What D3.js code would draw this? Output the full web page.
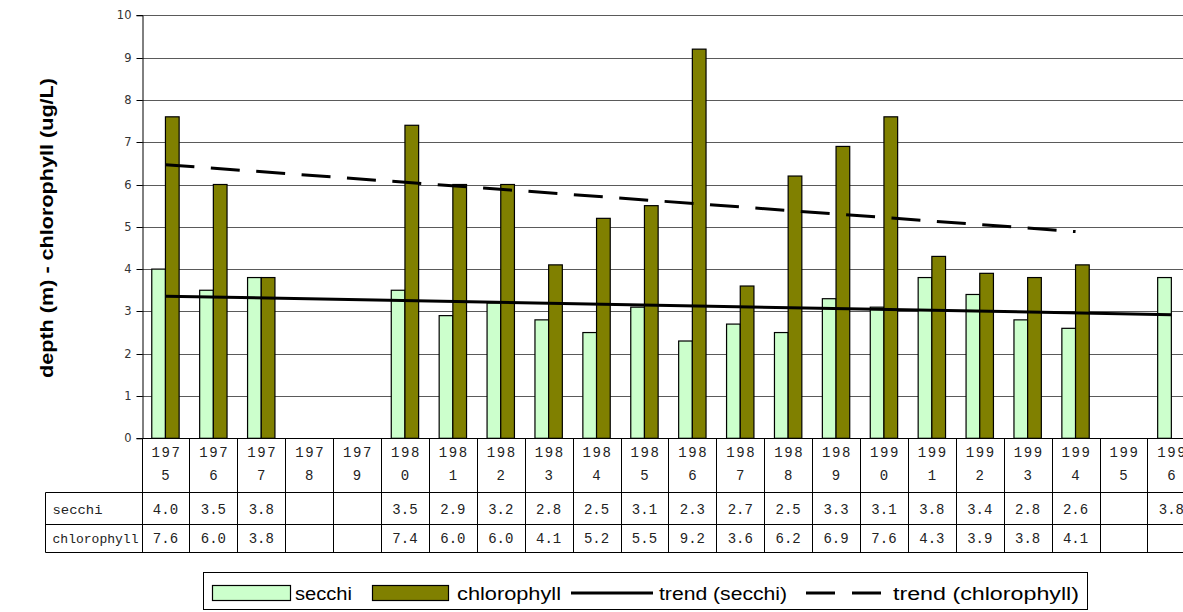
<!DOCTYPE html>
<html>
<head>
<meta charset="utf-8">
<script src="https://cdn.jsdelivr.net/npm/d3@7"></script>
<style>
  html, body { margin: 0; padding: 0; background: #fff; }
  svg { display: block; }
</style>
</head>
<body>
<svg id="chart" width="1183" height="612"></svg>
<script>
// Lake monitoring: Secchi depth (m) and chlorophyll (ug/L) by year
const years = ["1975","1976","1977","1978","1979","1980","1981","1982","1983","1984","1985",
               "1986","1987","1988","1989","1990","1991","1992","1993","1994","1995","1996"];
const secchi = [4.0, 3.5, 3.8, null, null, 3.5, 2.9, 3.2, 2.8, 2.5, 3.1,
                2.3, 2.7, 2.5, 3.3, 3.1, 3.8, 3.4, 2.8, 2.6, null, 3.8];
const chlorophyll = [7.6, 6.0, 3.8, null, null, 7.4, 6.0, 6.0, 4.1, 5.2, 5.5,
                     9.2, 3.6, 6.2, 6.9, 7.6, 4.3, 3.9, 3.8, 4.1, null, null];
const yTicks = [0, 1, 2, 3, 4, 5, 6, 7, 8, 9, 10];
const seriesNames = ["secchi", "chlorophyll"];

const COLORS = { secchi: "#CCFFCC", chlorophyll: "#808000" };

const svg = d3.select("#chart");
const plot = { left: 141.5, top: 15.3, bottom: 438.3, step: 47.9 };

const x = d3.scaleBand()
  .domain(years)
  .range([plot.left, plot.left + plot.step * years.length])
  .paddingInner(0).paddingOuter(0);
const y = d3.scaleLinear().domain([0, 10]).range([plot.bottom, plot.top]);

const barW = x.bandwidth() / 3.5;   // two bars + 150% gap

// gridlines
svg.append("g")
  .selectAll("line")
  .data(yTicks.filter(d => d > 0))
  .join("line")
  .attr("x1", plot.left).attr("x2", 1183)
  .attr("y1", d => Math.round(y(d)) + 0.5).attr("y2", d => Math.round(y(d)) + 0.5)
  .attr("stroke", "#5a5a5a").attr("stroke-width", 1);

// y axis
const yAxis = d3.axisLeft(y).tickValues(yTicks).tickSize(6).tickPadding(5)
  .tickFormat(d3.format("d"));
const gy = svg.append("g")
  .attr("transform", `translate(${Math.round(plot.left) + 0.5},0)`)
  .call(yAxis);
gy.select(".domain").attr("stroke", "#000");
gy.selectAll(".tick line").attr("stroke", "#000");
gy.selectAll(".tick text")
  .attr("font-family", "DejaVu Sans, Verdana, sans-serif")
  .attr("font-size", 11.5)
  .attr("fill", "#333");
gy.selectAll(".tick").attr("transform", d => `translate(0,${Math.round(y(d)) + 0.5})`);

// bars
const bars = svg.append("g");
seriesNames.forEach((name, si) => {
  const vals = name === "secchi" ? secchi : chlorophyll;
  bars.append("g")
    .selectAll("rect")
    .data(years.map((yr, i) => ({ yr, v: vals[i] })).filter(d => d.v != null))
    .join("rect")
    .attr("x", d => x(d.yr) + x.bandwidth() / 2 - barW + si * barW)
    .attr("y", d => y(d.v))
    .attr("width", barW)
    .attr("height", d => y(0) - y(d.v))
    .attr("fill", COLORS[name])
    .attr("stroke", "#000")
    .attr("stroke-width", 1.2);
});

// least-squares trend over category index (gaps skipped)
function trend(vals) {
  const pts = vals.map((v, i) => ({ i: i + 1, v })).filter(d => d.v != null);
  const n = pts.length;
  const mx = d3.mean(pts, d => d.i), my = d3.mean(pts, d => d.v);
  const sxy = d3.sum(pts, d => (d.i - mx) * (d.v - my));
  const sxx = d3.sum(pts, d => (d.i - mx) ** 2);
  const b = sxy / sxx, a = my - b * mx;
  const first = pts[0].i, last = pts[n - 1].i;
  return [first, last].map(i => ({ yr: years[i - 1], v: a + b * i }));
}
const line = d3.line()
  .x(d => x(d.yr) + x.bandwidth() / 2)
  .y(d => y(d.v));

svg.append("path")
  .datum(trend(secchi))
  .attr("d", line)
  .attr("fill", "none").attr("stroke", "#000").attr("stroke-width", 3);
svg.append("path")
  .datum(trend(chlorophyll))
  .attr("d", line)
  .attr("fill", "none").attr("stroke", "#000").attr("stroke-width", 3)
  .attr("stroke-dasharray", "29,16.5");

// x axis line
svg.append("line")
  .attr("x1", plot.left).attr("x2", 1183)
  .attr("y1", Math.round(plot.bottom) + 0.5).attr("y2", Math.round(plot.bottom) + 0.5)
  .attr("stroke", "#000");

// data table under the axis
const table = { headBottom: 492.5, row1Bottom: 524.5, bottom: 552.5, left: 45.5 };
const tg = svg.append("g");
const mono = "Liberation Mono, Courier New, monospace";

// cell borders
const edges = years.map(yr => x(yr)).concat([x(years[years.length - 1]) + x.bandwidth()]);
tg.selectAll("line.v")
  .data(edges)
  .join("line")
  .attr("class", "v")
  .attr("x1", d => Math.round(d) + 0.5).attr("x2", d => Math.round(d) + 0.5)
  .attr("y1", plot.bottom).attr("y2", table.bottom)
  .attr("stroke", "#000");
[table.headBottom, table.row1Bottom, table.bottom].forEach(yy => {
  tg.append("line")
    .attr("x1", table.left).attr("x2", 1183)
    .attr("y1", yy).attr("y2", yy)
    .attr("stroke", "#000");
});
tg.append("line")
  .attr("x1", table.left).attr("x2", table.left)
  .attr("y1", table.headBottom).attr("y2", table.bottom)
  .attr("stroke", "#000");

// year labels wrapped on two lines
const yearText = tg.selectAll("text.year")
  .data(years)
  .join("text")
  .attr("class", "year")
  .attr("text-anchor", "middle")
  .attr("font-family", mono)
  .attr("font-size", 14)
  .attr("fill", "#222");
yearText.append("tspan")
  .attr("x", d => x(d) + x.bandwidth() / 2 + 1)
  .attr("y", 456.5)
  .attr("letter-spacing", 1.6)
  .text(d => d.slice(0, 3));
yearText.append("tspan")
  .attr("x", d => x(d) + x.bandwidth() / 2)
  .attr("y", 480)
  .text(d => d.slice(3));

// row labels and values
const fmt = d3.format(".1f");
const rows = [
  { name: "secchi", vals: secchi, base: 514 },
  { name: "chlorophyll", vals: chlorophyll, base: 543 }
];
rows.forEach(r => {
  tg.append("text")
    .attr("x", 52.5).attr("y", r.base)
    .attr("font-family", mono).attr("font-size", 13.5)
    .attr("fill", "#222")
    .attr("textLength", r.name === "secchi" ? 50 : 86)
    .attr("lengthAdjust", "spacingAndGlyphs")
    .text(r.name);
  tg.selectAll(null)
    .data(years.map((yr, i) => ({ yr, v: r.vals[i] })).filter(d => d.v != null))
    .join("text")
    .attr("x", d => x(d.yr) + x.bandwidth() / 2)
    .attr("y", r.base)
    .attr("text-anchor", "middle")
    .attr("font-family", mono).attr("font-size", 14)
    .attr("fill", "#222")
    .text(d => fmt(d.v));
});

// y axis title
svg.append("text")
  .attr("transform", "translate(47,228) rotate(-90)")
  .attr("text-anchor", "middle")
  .attr("dominant-baseline", "central")
  .attr("font-family", "Liberation Sans, Arial, sans-serif")
  .attr("font-weight", "bold")
  .attr("font-size", 18)
  .attr("textLength", 300)
  .attr("lengthAdjust", "spacingAndGlyphs")
  .attr("fill", "#000")
  .text("depth (m) - chlorophyll (ug/L)");

// legend
const lg = svg.append("g");
const legendFont = "Liberation Sans, Arial, sans-serif";
lg.append("rect")
  .attr("x", 203.5).attr("y", 572.5).attr("width", 884).attr("height", 37)
  .attr("fill", "#fff").attr("stroke", "#000");
const legendItems = [
  { label: "secchi", kind: "rect", color: COLORS.secchi, x0: 212, x1: 290, tx: 295, w: 57 },
  { label: "chlorophyll", kind: "rect", color: COLORS.chlorophyll, x0: 372, x1: 448, tx: 457, w: 104 },
  { label: "trend (secchi)", kind: "line", x0: 571, x1: 653, tx: 659, w: 128 },
  { label: "trend (chlorophyll)", kind: "dash", x0: 806, x1: 882, tx: 893, w: 186 }
];
legendItems.forEach(it => {
  if (it.kind === "rect") {
    lg.append("rect")
      .attr("x", it.x0 + 0.5).attr("y", 585.5)
      .attr("width", it.x1 - it.x0).attr("height", 15)
      .attr("fill", it.color).attr("stroke", "#000").attr("stroke-width", 1.2);
  } else {
    lg.append("line")
      .attr("x1", it.x0).attr("x2", it.x1)
      .attr("y1", 593).attr("y2", 593)
      .attr("stroke", "#000").attr("stroke-width", 3)
      .attr("stroke-dasharray", it.kind === "dash" ? "29,17" : null);
  }
  lg.append("text")
    .attr("x", it.tx).attr("y", 599.5)
    .attr("font-family", legendFont)
    .attr("font-size", 18)
    .attr("textLength", it.w)
    .attr("lengthAdjust", "spacingAndGlyphs")
    .attr("fill", "#000")
    .text(it.label);
});
</script>
</body>
</html>
